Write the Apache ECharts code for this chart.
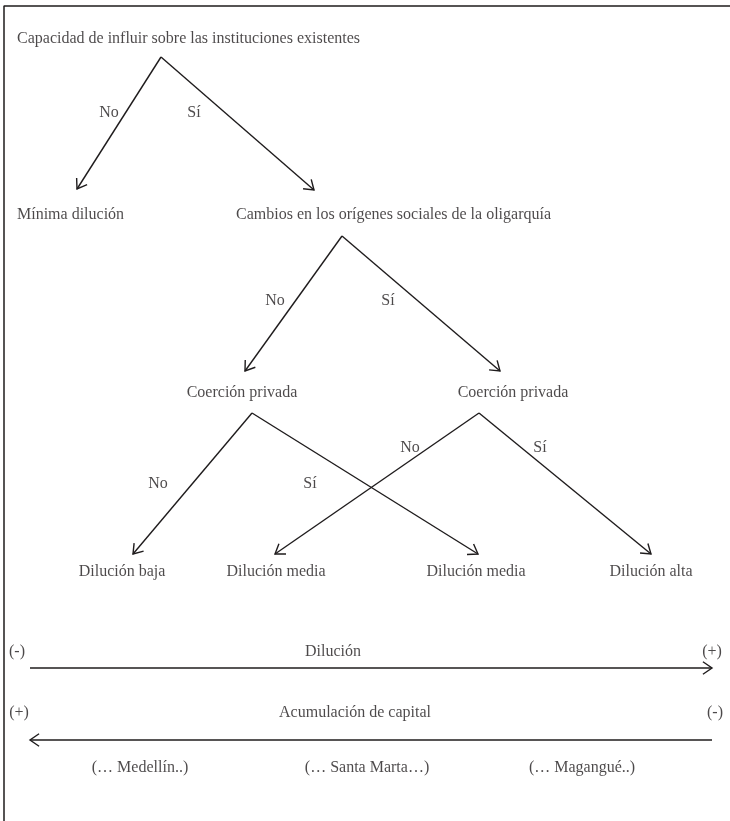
<!DOCTYPE html>
<html>
<head>
<meta charset="utf-8">
<script src="https://cdn.jsdelivr.net/npm/echarts@6/dist/echarts.min.js"></script>
<style>
  html, body { margin: 0; padding: 0; background: #fff; }
  #main { width: 730px; height: 821px; }
</style>
</head>
<body>
<div id="main"></div>
<script>
// diagram drawn on a plain 0..730 x 0..821 value grid (y grows downward)

// arrows: [fromX, fromY, toX, toY], head at the "to" end
const treeArrows = [
  [161, 57, 77, 189],
  [161, 57, 314, 190],
  [342, 236, 245, 371],
  [342, 236, 500, 371],
  [252, 413, 133, 554],
  [252, 413, 478, 554],
  [479, 413, 275, 554],
  [479, 413, 651, 554]
]
const scaleArrows = [
  [30, 668, 712, 668],
  [712, 740, 30, 740]
]

// frame (top and left edge only)
const frameLine = [[4, 821], [4, 6], [730, 6]]

// texts anchored at their left edge: [x, y, text]
const leftTexts = [
  [17, 39, 'Capacidad de influir sobre las instituciones existentes'],
  [17, 215, 'Mínima dilución'],
  [236, 215, 'Cambios en los orígenes sociales de la oligarquía']
]

// texts anchored at their centre: [x, y, text]
const nodeTexts = [
  [242, 393, 'Coerción privada'],
  [513, 393, 'Coerción privada'],
  [122, 572, 'Dilución baja'],
  [276, 572, 'Dilución media'],
  [476, 572, 'Dilución media'],
  [651, 572, 'Dilución alta']
]
const branchTexts = [
  [109, 113, 'No'], [194, 113, 'Sí'],
  [275, 301, 'No'], [388, 301, 'Sí'],
  [158, 484, 'No'], [310, 484, 'Sí'],
  [410, 448, 'No'], [540, 448, 'Sí']
]
const scaleTexts = [
  [17, 652, '(-)'], [333, 652, 'Dilución'], [712, 652, '(+)'],
  [19, 713, '(+)'], [355, 713, 'Acumulación de capital'], [715, 713, '(-)'],
  [140, 768, '(… Medellín..)'], [367, 768, '(… Santa Marta…)'], [582, 768, '(… Magangué..)']
]

const ink = '#1f1c1d'
const font = "'Liberation Serif', 'DejaVu Serif', serif"

function renderArrow(params, api) {
  const a = api.coord([api.value(0), api.value(1)])
  const b = api.coord([api.value(2), api.value(3)])
  const ang = Math.atan2(b[1] - a[1], b[0] - a[0])
  const len = 11, spread = 0.6
  const h1 = [b[0] - len * Math.cos(ang - spread), b[1] - len * Math.sin(ang - spread)]
  const h2 = [b[0] - len * Math.cos(ang + spread), b[1] - len * Math.sin(ang + spread)]
  const style = { stroke: ink, lineWidth: 1.4, fill: null }
  return {
    type: 'group',
    children: [
      { type: 'line', shape: { x1: a[0], y1: a[1], x2: b[0], y2: b[1] }, style: style },
      { type: 'polyline', shape: { points: [h1, b, h2] }, style: style }
    ]
  }
}

function textSeries(data, align) {
  return {
    type: 'scatter',
    data: data,
    symbolSize: 0,
    silent: true,
    label: {
      show: true,
      position: 'inside',
      align: align,
      verticalAlign: 'middle',
      formatter: p => p.value[2],
      color: ink,
      fontFamily: font,
      fontSize: 16
    }
  }
}

const chart = echarts.init(document.getElementById('main'))
chart.setOption({
  animation: false,
  backgroundColor: '#fff',
  grid: { left: 0, right: 0, top: 0, bottom: 0 },
  xAxis: { type: 'value', min: 0, max: 730, show: false },
  yAxis: { type: 'value', min: 0, max: 821, inverse: true, show: false },
  series: [
    {
      type: 'line',
      data: frameLine,
      symbol: 'none',
      silent: true,
      lineStyle: { color: ink, width: 1.5 }
    },
    {
      type: 'custom',
      data: treeArrows.concat(scaleArrows),
      encode: { x: [0, 2], y: [1, 3] },
      renderItem: renderArrow,
      silent: true
    },
    textSeries(leftTexts, 'left'),
    textSeries(nodeTexts, 'center'),
    textSeries(branchTexts, 'center'),
    textSeries(scaleTexts, 'center')
  ]
})

window.addEventListener('resize', function() {
  chart.resize()
})
</script>
</body>
</html>
